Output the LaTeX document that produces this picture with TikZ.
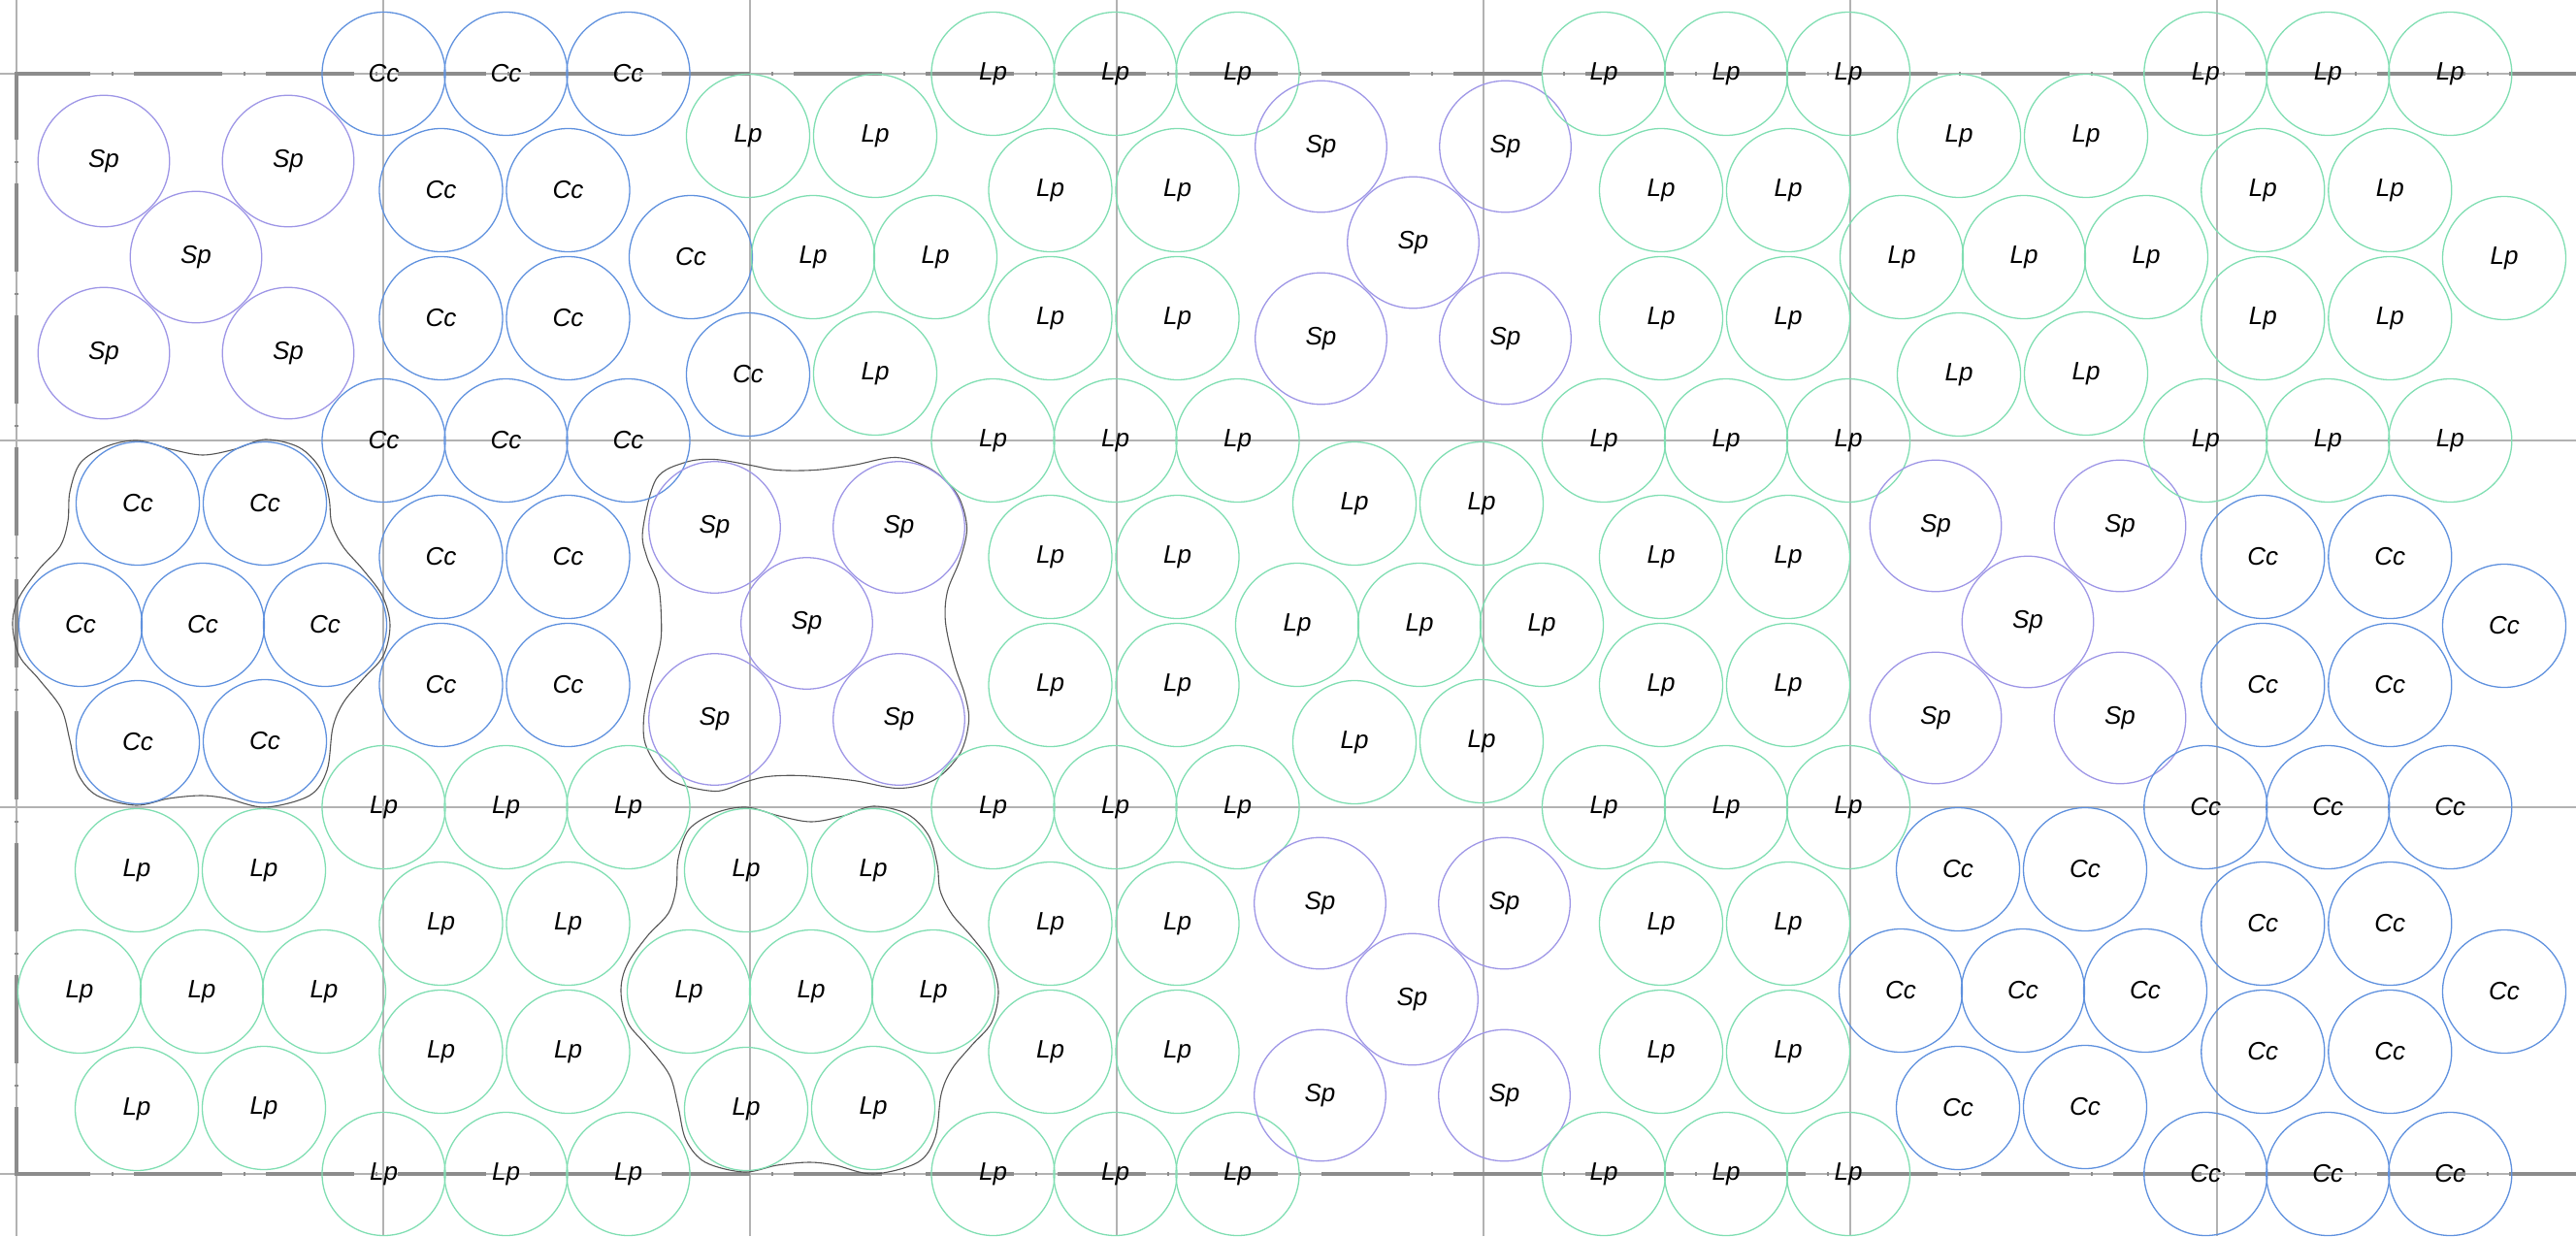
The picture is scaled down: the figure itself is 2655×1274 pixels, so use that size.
\documentclass[tikz,border=0pt]{standalone}
\usepackage{fontspec}
\setmainfont{Liberation Sans}
\definecolor{ccblue}{RGB}{95,145,222}
\definecolor{lpgreen}{RGB}{128,222,178}
\definecolor{sppurple}{RGB}{158,150,230}
\definecolor{gridgray}{RGB}{178,178,178}
\definecolor{bordergray}{RGB}{140,140,140}
\definecolor{outlinegray}{RGB}{85,85,85}
\tikzset{
  circ/.style={circle, inner sep=0pt, outer sep=0pt, line width=1.3pt,
    font=\fontsize{26}{30}\selectfont\itshape, text=black},
  cc/.style={circ, draw=ccblue, minimum size=127pt, node contents=Cc},
  lp/.style={circ, draw=lpgreen, minimum size=127pt, node contents=Lp},
  sp/.style={circ, draw=sppurple, minimum size=135.5pt, node contents=Sp},
  gridline/.style={draw=gridgray, line width=1.3pt},
  borderline/.style={draw=bordergray, line width=4pt,
    dash pattern=on 91pt off 22pt on 1.5pt off 21.5pt},
  outl/.style={draw=outlinegray, line width=1.1pt},
}
% hexagonal cluster of seven circles: name, cx, cy, style
\newcommand\hexcl[4]{%
  \foreach \i/\dx/\dy in {1/-67/-125, 2/64/-125, 3/-126/0, 4/0/0, 5/126/0, 6/-67/121, 7/64/120}
    {\node (#1-\i) at ({#2+\dx},{#3+\dy}) [#4];}%
}
% quincunx of five Sp circles: name, cx, cy
\newcommand\quincl[3]{%
  \foreach \i/\dx/\dy in {1/-95/-99, 2/95/-99, 3/0/0, 4/-95/99, 5/95/99}
    {\node (#1-\i) at ({#2+\dx},{#3+\dy}) [sp];}%
}
% column of rectangular groups: name, X, four boundary-row styles, three interior-row styles
\newcommand\rectcol[9]{%
  \foreach \k in {0,1,2}{%
    \node (#1-b0-\k) at ({#2+126*\k},76) [#3];
    \node (#1-b1-\k) at ({#2+126*\k},454) [#4];
    \node (#1-b2-\k) at ({#2+126*\k},832) [#5];
    \node (#1-b3-\k) at ({#2+126*\k},1210) [#6];
  }%
  \foreach \r/\Y/\st in {0/76/#7, 1/454/#8, 2/832/#9}{%
    \node (#1-i\r-1) at ({#2+59},{\Y+120}) [\st];
    \node (#1-i\r-2) at ({#2+190},{\Y+120}) [\st];
    \node (#1-i\r-3) at ({#2+59},{\Y+252}) [\st];
    \node (#1-i\r-4) at ({#2+190},{\Y+252}) [\st];
  }%
}
\newcommand\hexoutline[2]{%
  \draw[outl, shift={(#1,#2)}] plot[smooth cycle, tension=0.55] coordinates {
    (-67,-190) (-33,-181) (0,-175) (33,-181) (64,-191) (99,-183) (121,-161)
    (130,-131) (133,-104) (145,-80) (165,-57) (185,-30) (193,0) (186,32)
    (165,56) (145,80) (134,106) (128,150) (110,176) (64,188) (25,179)
    (-2,176) (-35,179) (-69,186) (-109,176) (-129,153) (-137,119) (-146,86)
    (-169,56) (-189,32) (-196,0) (-190,-27) (-169,-57) (-147,-81) (-139,-107)
    (-137,-137) (-126,-167) (-99,-184)};%
}
\newcommand\quinoutline[2]{%
  \draw[outl, shift={(#1,#2)}] plot[smooth cycle, tension=0.55] coordinates {
    (-169,-96) (-155,-149) (-125,-166) (-95,-169) (-58,-163) (-31,-158)
    (8,-158) (48,-163) (92,-171) (128,-159) (155,-133) (165,-99) (158,-66)
    (145,-33) (143,-1) (152,41) (163,74) (167,101) (158,134) (132,161)
    (95,170) (48,162) (-5,157) (-41,158) (-65,164) (-95,173) (-141,161)
    (-165,128) (-168,98) (-161,61) (-151,21) (-150,-6) (-153,-39) (-165,-69)};%
}
\begin{document}
\begin{tikzpicture}[x=1pt,y=-1pt]
\useasboundingbox (0,0) rectangle (2655,1274);
\clip (0,0) rectangle (2655,1274);
% grid
\foreach \k in {0,...,6} \draw[gridline] ({17+378*\k},0) -- ({17+378*\k},1274);
\foreach \y in {76,454,832,1210} \draw[gridline] (0,\y) -- (2655,\y);
% dashed border (open to the right)
\draw[borderline, dash phase=13pt] (15,76) -- (2663,76);
\draw[borderline, dash phase=13pt] (15,1210) -- (2663,1210);
\draw[borderline, dash phase=21pt] (17,74) -- (17,1212);
% outlines
\hexoutline{209}{644}
\quinoutline{831.5}{642.5}
\hexoutline{836}{1022}
% column A
\quincl{qA0}{202}{265}
\hexcl{hA1}{209}{644}{cc}
\hexcl{hA2}{208}{1022}{lp}
% column B
\rectcol{rB}{395.5}{cc}{cc}{lp}{lp}{cc}{cc}{lp}
% column C
\node (hC0-1) at (771,140) [lp];
\node (hC0-2) at (902,140) [lp];
\node (hC0-3) at (712,265) [cc];
\node (hC0-4) at (838,265) [lp];
\node (hC0-5) at (964,265) [lp];
\node (hC0-6) at (771,386) [cc];
\node (hC0-7) at (902,385) [lp];
\quincl{qC1}{831.5}{642.5}
\hexcl{hC2}{836}{1022}{lp}
% column D
\rectcol{rD}{1023.5}{lp}{lp}{lp}{lp}{lp}{lp}{lp}
% column E
\quincl{qE0}{1456.5}{250}
\hexcl{hE1}{1463}{644}{lp}
\quincl{qE2}{1455.5}{1030}
% column F
\rectcol{rF}{1653}{lp}{lp}{lp}{lp}{lp}{lp}{lp}
% column G
\hexcl{hG0}{2086}{265}{lp}
\quincl{qG1}{2090}{641}
\hexcl{hG2}{2085}{1021}{cc}
% column H
\rectcol{rH}{2273.3}{lp}{lp}{cc}{cc}{lp}{cc}{cc}
\node (xH0) at (2581,266) [lp];
\node (xH1) at (2581,645) [cc];
\node (xH2) at (2581,1022) [cc];
\end{tikzpicture}
\end{document}
